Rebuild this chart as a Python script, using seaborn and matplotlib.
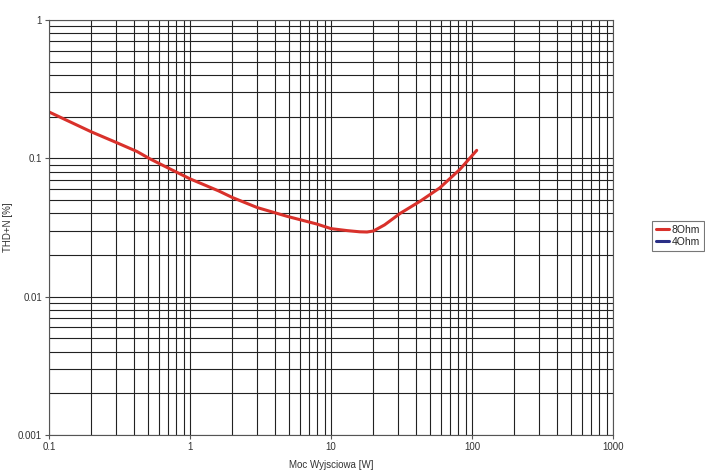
import numpy as np
import pandas as pd
import matplotlib
matplotlib.use("Agg")
import matplotlib.pyplot as plt
import matplotlib.ticker as mticker
import seaborn as sns

# THD+N vs output power
power_8ohm = [0.1, 0.2, 0.3, 0.42, 0.52, 0.7, 1, 1.6, 2.0, 3, 4.9, 7.9, 10, 13, 16,
              18, 20, 24, 31, 43, 59, 82, 108]
thd_8ohm = [0.216, 0.155, 0.130, 0.112, 0.099, 0.085, 0.071, 0.058, 0.052, 0.044, 0.038,
            0.0335, 0.031, 0.030, 0.0294, 0.0293, 0.0298, 0.033, 0.040, 0.049, 0.061,
            0.083, 0.114]
power_4ohm = []
thd_4ohm = []

x_ticks = [0.1, 1, 10, 100, 1000]
x_labels = ["0.1", "1", "10", "100", "1000"]
y_ticks = [0.001, 0.01, 0.1, 1]
y_labels = ["0.001", "0.01", "0.1", "1"]

sns.set_style("white")
plt.rcParams['font.family'] = ['Liberation Sans', 'DejaVu Sans']

fig = plt.figure(figsize=(7.05, 4.75), dpi=100)
ax = fig.add_axes([0.0695, 0.0842, 0.8, 0.874])

df = pd.DataFrame({"power": power_8ohm, "thd": thd_8ohm})
sns.lineplot(data=df, x="power", y="thd", ax=ax, color="#d9312b", lw=2.2, label="8Ohm")
ax.plot(power_4ohm, thd_4ohm, color="#2a2f86", lw=2.2, label="4Ohm")

ax.set_xscale("log")
ax.set_yscale("log")
ax.set_xlim(0.1, 1000)
ax.set_ylim(0.001, 1)
ax.set_xticks(x_ticks)
ax.set_xticklabels(x_labels)
ax.set_yticks(y_ticks)
ax.set_yticklabels(y_labels)
ax.xaxis.set_minor_locator(mticker.LogLocator(base=10, subs=np.arange(2, 10)))
ax.yaxis.set_minor_locator(mticker.LogLocator(base=10, subs=np.arange(2, 10)))
ax.xaxis.set_minor_formatter(mticker.NullFormatter())
ax.yaxis.set_minor_formatter(mticker.NullFormatter())

ax.grid(True, which="both", color="#222222", lw=0.8)
ax.set_axisbelow(True)
for s in ax.spines.values():
    s.set_color("#555555")
    s.set_linewidth(0.8)
ax.tick_params(which="major", direction="out", length=3, width=0.8, color="#555555",
               labelsize=7, pad=2, bottom=True, left=True, labelcolor="#333333")
ax.tick_params(which="minor", length=0)

ax.set_xlabel("Moc Wyjsciowa [W]", fontsize=7, labelpad=6, color="#333333")
ax.set_ylabel("THD+N [%]", fontsize=7, color="#333333")
ax.yaxis.set_label_coords(-0.064, 0.5)

leg = ax.legend(loc="center left", bbox_to_anchor=(1.06, 0.48), fontsize=7.5, frameon=True,
                fancybox=False, edgecolor="#555555", handlelength=1.2, handletextpad=0.3,
                borderpad=0.4, labelspacing=0.2)
leg.get_frame().set_linewidth(0.8)

fig.savefig("out.png", dpi=100)
